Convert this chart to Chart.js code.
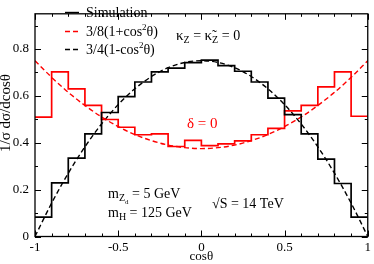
<!DOCTYPE html>
<html><head><meta charset="utf-8">
<script src="https://cdn.jsdelivr.net/npm/chart.js@4/dist/chart.umd.min.js"></script>
<style>html,body{margin:0;padding:0;background:#fff}#wrap{width:374px;height:264px}</style>
</head><body><div id="wrap"><canvas id="c" width="374" height="264"></canvas></div>
<script>
// bin lower edges (width 0.1)
const binEdges = [-1,-0.9,-0.8,-0.7,-0.6,-0.5,-0.4,-0.3,-0.2,-0.1,0,0.1,0.2,0.3,0.4,0.5,0.6,0.7,0.8,0.9,1];
const simBlack = [0.083,0.229,0.334,0.438,0.529,0.597,0.659,0.702,0.718,0.742,0.752,0.729,0.705,0.659,0.590,0.520,0.438,0.330,0.226,0.083];
const simRed   = [0.509,0.702,0.630,0.559,0.499,0.466,0.434,0.438,0.384,0.410,0.388,0.395,0.408,0.434,0.461,0.536,0.559,0.638,0.702,0.513];
const curveX     = [-1,-0.9,-0.8,-0.7,-0.6,-0.5,-0.4,-0.3,-0.2,-0.1,0,0.1,0.2,0.3,0.4,0.5,0.6,0.7,0.8,0.9,1];
const curveRed   = [0.75,0.679,0.615,0.559,0.51,0.469,0.435,0.409,0.39,0.379,0.375,0.379,0.39,0.409,0.435,0.469,0.51,0.559,0.615,0.679,0.75];
const curveBlack = [0,0.1425,0.27,0.3825,0.48,0.5625,0.63,0.6825,0.72,0.7425,0.75,0.7425,0.72,0.6825,0.63,0.5625,0.48,0.3825,0.27,0.1425,0];
const xTicks = [-1,-0.5,0,0.5,1];
const yTicks = [0,0.2,0.4,0.6,0.8];
const legendLabels = ['Simulation','3/8(1+cos\u00B2\u03B8)','3/4(1-cos\u00B2\u03B8)'];
const yTitle = '1/\u03C3 d\u03C3/dcos\u03B8';

const FONT = '"Liberation Serif","Times New Roman",serif';

function histPoints(vals){
  const p = vals.map((v,i)=>({x:binEdges[i],y:v}));
  p.push({x:binEdges[vals.length],y:vals[vals.length-1]});
  return p;
}
function curvePoints(ys){ return ys.map((v,i)=>({x:curveX[i],y:v})); }

const framePlugin = {
  id:'frame',
  afterDraw(chart){
    const ctx = chart.ctx, a = chart.chartArea;
    const xs = chart.scales.x, ys = chart.scales.y;
    ctx.save();
    ctx.strokeStyle = '#000'; ctx.lineWidth = 1.3;
    ctx.strokeRect(a.left, a.top, a.right-a.left, a.bottom-a.top);
    ctx.lineWidth = 1;
    ctx.beginPath();
    for(let k=0;k<=20;k++){
      const v = -1 + k*0.1;
      const px = Math.round(xs.getPixelForValue(v))+0.5;
      const L = (k%5===0)?6:3;
      ctx.moveTo(px,a.bottom); ctx.lineTo(px,a.bottom-L);
      ctx.moveTo(px,a.top); ctx.lineTo(px,a.top+L);
    }
    for(let k=0;k<=9;k++){
      const v = k*0.1;
      const py = Math.round(ys.getPixelForValue(v))+0.5;
      const L = (k%2===0)?6:3;
      ctx.moveTo(a.left,py); ctx.lineTo(a.left+L,py);
      ctx.moveTo(a.right,py); ctx.lineTo(a.right-L,py);
    }
    ctx.stroke();

    function seq(parts, x, y, color){
      ctx.fillStyle = color;
      parts.forEach(p=>{
        ctx.font = p[1]+'px '+FONT;
        ctx.fillText(p[0], x, y + (p[2]||0));
        x += ctx.measureText(p[0]).width;
      });
    }

    // y title
    ctx.save();
    ctx.translate(10, 113);
    ctx.rotate(-Math.PI/2);
    ctx.textAlign = 'center'; ctx.textBaseline = 'alphabetic';
    ctx.font = '15px '+FONT; ctx.fillStyle = '#000';
    ctx.fillText(yTitle, 0, 0);
    ctx.restore();

    // legend
    const ds = chart.data.datasets;
    const rows = [0,2,3];
    ctx.textBaseline = 'alphabetic';
    rows.forEach((di,i)=>{
      const d = ds[di];
      const y = 12 + i*18.5;
      ctx.strokeStyle = d.borderColor; ctx.lineWidth = 1.4;
      ctx.setLineDash(d.borderDash||[]);
      ctx.beginPath(); ctx.moveTo(65,Math.round(y)+0.5); ctx.lineTo(79,Math.round(y)+0.5); ctx.stroke();
      ctx.setLineDash([]);
      const lbl = legendLabels[i];
      const si = lbl.indexOf('\u00B2');
      if(si<0){ seq([[lbl,14]], 86, y+5, '#000'); }
      else { seq([[lbl.slice(0,si),14],['2',9,-6],[lbl.slice(si+1),14]], 86, y+5, '#000'); }
    });

    // annotations
    seq([['\u03BA',15],['Z',10,3],[' = ',14],['\u03BA\u0303',15],['Z',10,3],[' = 0',14]], 176, 40, '#000');
    seq([['\u03B4 = 0',15]], 187, 128, '#ff0000');
    seq([['m',14],['Z',10,3],['d',7,6],[' = 5 GeV',14]], 108, 198, '#000');
    seq([['m',14],['H',10,3],[' = 125 GeV',14]], 108, 217, '#000');
    seq([['\u221AS = 14 TeV',14]], 212, 208, '#000');
    ctx.restore();
  }
};

new Chart(document.getElementById('c'), {
  type:'line',
  data:{datasets:[
    {label:'Simulation', data:histPoints(simBlack), stepped:'before', borderColor:'#000', borderWidth:1.7, pointRadius:0, fill:false},
    {label:'red', data:histPoints(simRed), stepped:'before', borderColor:'#ff0000', borderWidth:1.7, pointRadius:0, fill:false},
    {label:legendLabels[1], data:curvePoints(curveRed), borderColor:'#ff0000', borderDash:[5,3], borderWidth:1.4, pointRadius:0, tension:0.4, cubicInterpolationMode:'monotone', fill:false},
    {label:legendLabels[2], data:curvePoints(curveBlack), borderColor:'#000', borderDash:[5,3], borderWidth:1.4, pointRadius:0, tension:0.4, cubicInterpolationMode:'monotone', fill:false}
  ]},
  options:{
    responsive:false, animation:false, devicePixelRatio:1,
    layout:{padding:{top:1, right:4, left:0, bottom:0}},
    plugins:{legend:{display:false}, tooltip:{enabled:false}},
    scales:{
      x:{type:'linear', min:-1, max:1,
        grid:{display:false, drawTicks:false}, border:{display:false},
        afterBuildTicks(s){ s.ticks = xTicks.map(v=>({value:v})); },
        afterFit(s){ s.height = 27.5; },
        ticks:{padding:3, color:'#000', font:{family:FONT,size:13}, maxRotation:0, autoSkip:false, callback:v=>String(v)},
        title:{display:true, text:'cos\u03B8', color:'#000', font:{family:FONT,size:13}, padding:{top:4,bottom:0}}
      },
      y:{type:'linear', min:0, max:0.95,
        grid:{display:false, drawTicks:false}, border:{display:false},
        afterBuildTicks(s){ s.ticks = yTicks.map(v=>({value:v})); },
        afterFit(s){ s.width = 35; },
        ticks:{padding:6, color:'#000', font:{family:FONT,size:13}, autoSkip:false, callback:v=>String(v)},
        title:{display:false}
      }
    }
  },
  plugins:[framePlugin]
});
</script></body></html>
